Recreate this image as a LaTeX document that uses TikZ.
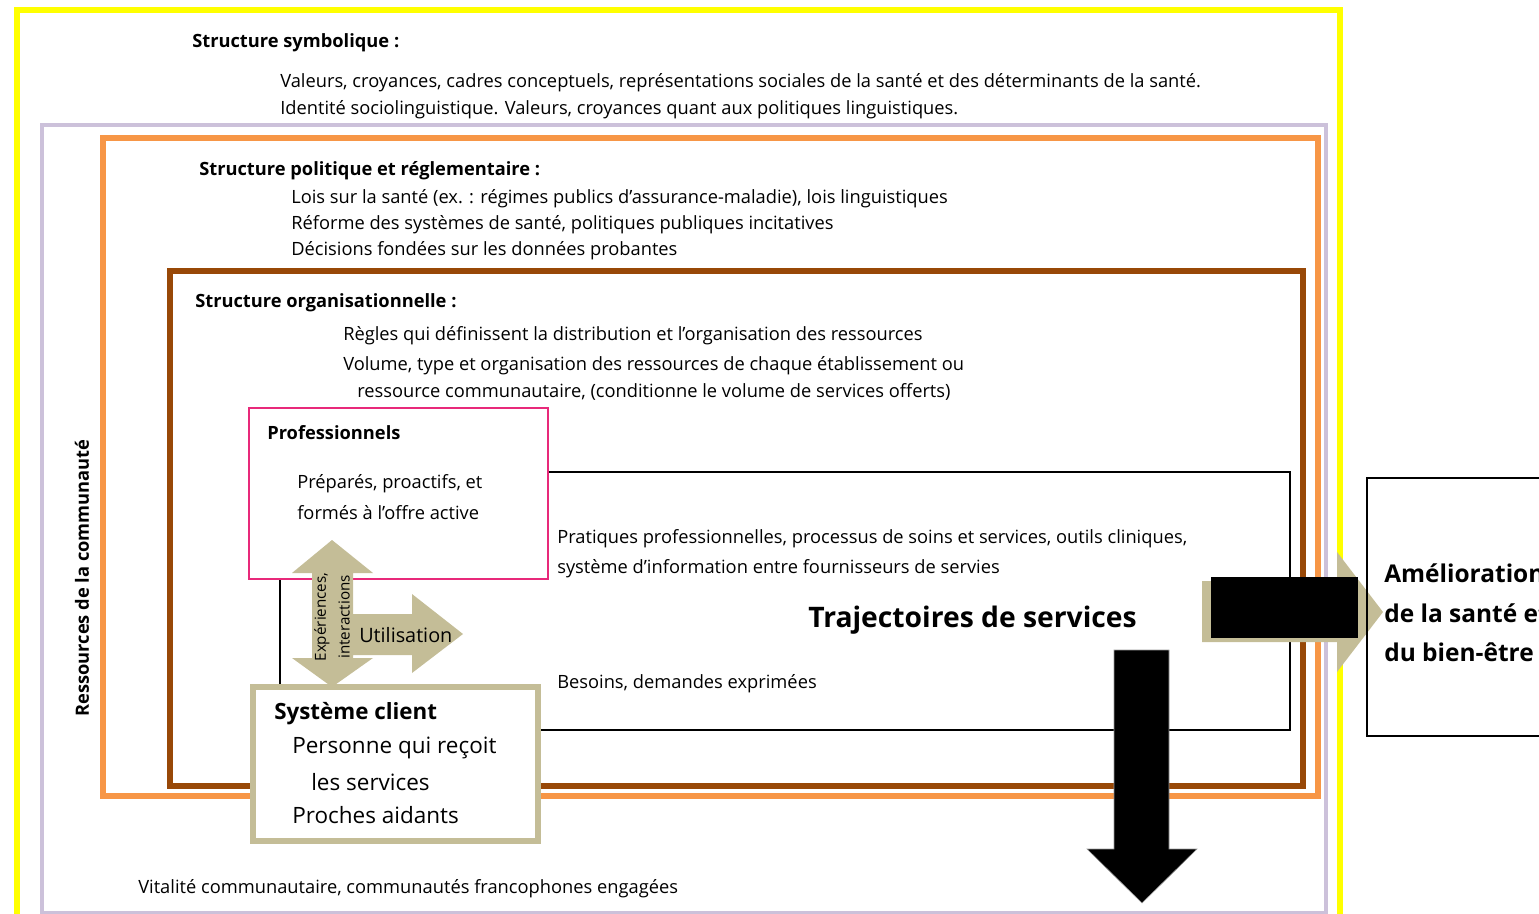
\documentclass[tikz,border=0pt]{standalone}
\usepackage{fontspec}
\setmainfont{Open Sans}
\usetikzlibrary{positioning}
\definecolor{jaune}{HTML}{FFFF00}
\definecolor{lavande}{HTML}{CCC1DA}
\definecolor{orange}{HTML}{F79646}
\definecolor{brun}{HTML}{984807}
\definecolor{rose}{HTML}{E8297A}
\definecolor{sable}{HTML}{C4BD97}

\begin{document}
\begin{tikzpicture}[x=0.025cm,y=-0.025cm,
  txt/.style={anchor=west,inner sep=0pt,font=\fontsize{13}{15}\selectfont},
  titre/.style={anchor=west,inner sep=0pt,font=\fontsize{13}{15}\selectfont\bfseries},
  grand/.style={anchor=west,inner sep=0pt,font=\fontsize{16}{19}\selectfont},
  sortie/.style={anchor=west,inner sep=0pt,font=\fontsize{17.4}{20}\selectfont\bfseries},
  cadre/.style={line width=#1,line join=miter}]
\useasboundingbox (0,0) rectangle (1539,914);
% ---------- cadres emboites ----------
\draw[cadre=4.2pt,jaune] (17,930) -- (17,10) -- (1340,10) -- (1340,930);
\draw[cadre=2.8pt,lavande] (42,913) rectangle (1326,125);
\draw[cadre=3.6pt,orange] (103,138) rectangle (1318,796);
\draw[cadre=3.6pt,brun] (170,271) rectangle (1303,786);
% trajectoires de services
\draw[cadre=2.1pt,black] (280,472) rectangle (1290,730);
% professionnels et systeme client
\draw[cadre=2.1pt,rose,fill=white] (249,408) rectangle (548,579);
\draw[cadre=4.2pt,sable,fill=white] (253,687) rectangle (538,841);
% ---------- fleches sable ----------
\fill[sable] (332,540) -- (373,573) -- (353,573) -- (353,614) -- (412,614)
  -- (412,594) -- (463,634) -- (412,673) -- (412,655) -- (353,655)
  -- (353,658) -- (373,658) -- (332,687) -- (292,658) -- (312,658)
  -- (312,573) -- (292,573) -- cycle;
% fleche vers la sortie
\draw[black!40,fill=black] (1114,650) -- (1169,650) -- (1169,849) -- (1197,849)
  -- (1142,903) -- (1087,849) -- (1114,849) -- cycle;
\fill[sable] (1202,581) -- (1337,581) -- (1337,552) -- (1383,612)
  -- (1337,672) -- (1337,642) -- (1202,642) -- cycle;
\fill[black] (1211,577) rectangle (1358,638);
% resultat
\draw[cadre=2.1pt,black] (1367,478) rectangle (1600,736);
% ---------- textes ----------
\node[titre] (symb) at (192,43) {Structure symbolique :};
\node[txt] (symb1) at (280,83) {Valeurs, croyances, cadres conceptuels, représentations sociales de la santé et des déterminants de la santé.};
\node[txt] (symb2) at (280,110) {Identité sociolinguistique. Valeurs, croyances quant aux politiques linguistiques.};
\node[titre] (poli) at (199,171) {Structure politique et réglementaire :};
\node[txt] (poli1) at (291,199) {Lois sur la santé (ex. : régimes publics d’assurance-maladie), lois linguistiques};
\node[txt] (poli2) at (291,225) {Réforme des systèmes de santé, politiques publiques incitatives};
\node[txt] (poli3) at (291,251) {Décisions fondées sur les données probantes};
\node[titre] (orga) at (195,303) {Structure organisationnelle :};
\node[txt] (orga1) at (343,336) {Règles qui définissent la distribution et l’organisation des ressources};
\node[txt] (orga2) at (343,366) {Volume, type et organisation des ressources de chaque établissement ou};
\node[txt] (orga3) at (357,392) {ressource communautaire, (conditionne le volume de services offerts)};
\node[titre] (prof) at (267,433) {Professionnels};
\node[txt] (prof1) at (297,484) {Préparés, proactifs, et};
\node[txt] (prof2) at (297,513) {formés à l’offre active};
\node[txt] (prat1) at (557,539) {Pratiques professionnelles, processus de soins et services, outils cliniques,};
\node[txt] (prat2) at (557,569) {système d’information entre fournisseurs de servies};
\node[anchor=west,inner sep=0pt,font=\fontsize{20.1}{24}\selectfont\bfseries] (traj) at (808,620) {Trajectoires de services};
\node[txt] (bes) at (557,684) {Besoins, demandes exprimées};
\node[grand,font=\fontsize{15.9}{19}\selectfont\bfseries] (client) at (274,714) {Système client};
\node[grand] (client1) at (292,748) {Personne qui reçoit};
\node[grand] (client2) at (311,782) {les services};
\node[grand] (client3) at (292,815) {Proches aidants};
\node[txt,font=\fontsize{14.1}{16}\selectfont] (util) at (359,635) {Utilisation};
\node[rotate=90,inner sep=0pt,align=center,font=\fontsize{10.8}{17}\selectfont] (exp) at (332,617) {Expériences,\\interactions};
\node[rotate=90,inner sep=0pt,font=\fontsize{13}{15}\selectfont\bfseries] (comm) at (82,578) {Ressources de la communauté};
\node[txt] (vita) at (138,889) {Vitalité communautaire, communautés francophones engagées};
\node[sortie] (amel1) at (1384,573) {Amélioration};
\node[sortie] (amel2) at (1384,613) {de la santé et};
\node[sortie] (amel3) at (1384,652) {du bien-être};
\end{tikzpicture}
\end{document}
